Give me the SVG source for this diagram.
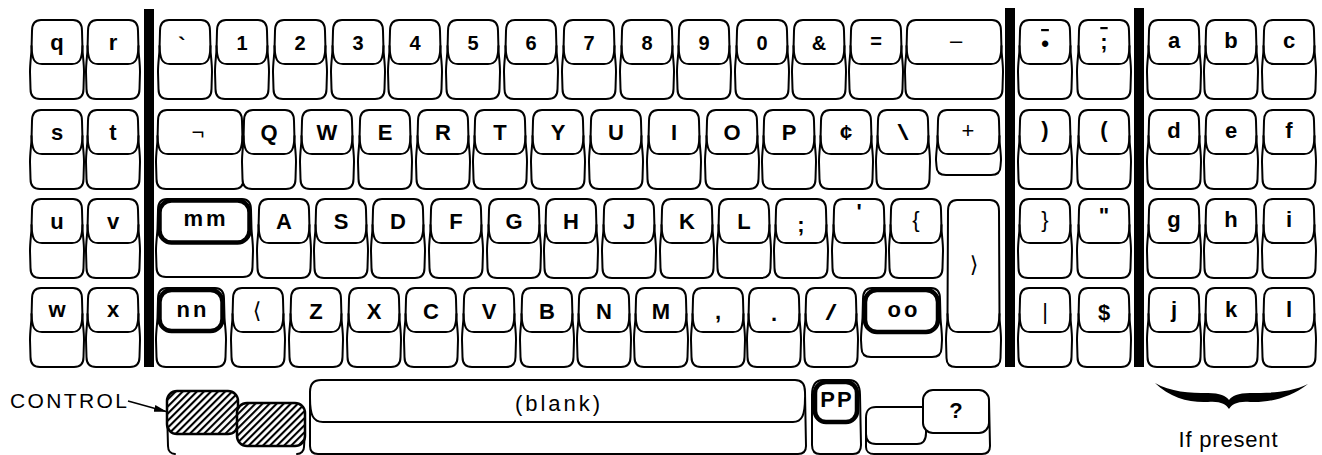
<svg xmlns="http://www.w3.org/2000/svg" width="1322" height="455" viewBox="0 0 1322 455">
<style>
.o{fill:#fff;stroke:#000;stroke-width:2;stroke-linejoin:round}
.l{fill:none;stroke:#000;stroke-width:2;stroke-linecap:round}
.th{fill:#fff;stroke:#000;stroke-width:4.5}
.h{fill:url(#hatch);stroke:#000;stroke-width:2.5}
.bar{fill:#000}
text{font-family:"Liberation Sans",Arial,Helvetica,sans-serif;fill:#000}
.t{font-size:22px;font-weight:bold;text-anchor:middle}
.d{font-size:20px}
.lc{font-size:22px}
.n{font-weight:normal}
.ov{text-decoration:overline}
.ang{font-family:"DejaVu Sans","Noto Sans CJK SC",sans-serif;font-weight:normal}
</style>
<defs>
<pattern id="hatch" width="5" height="5" patternUnits="userSpaceOnUse" patternTransform="rotate(45)"><rect width="5" height="5" fill="#fff"/><line x1="1" y1="0" x2="1" y2="5" stroke="#000" stroke-width="2.2"/></pattern>
<marker id="arr" markerWidth="13" markerHeight="8" refX="12" refY="4" orient="auto" markerUnits="userSpaceOnUse"><path d="M0,0.5 L13,4 L0,7.5 Z" fill="#000"/></marker>
<g id="k">
<path class="o" d="M10,0 C4,0 1,3 1,11 L0.5,30 C0,38 -1,44 -1,52 L-0.5,69 C-0.5,76 3,79 9,79 L43,79 C49,79 52.5,76 52.5,69 L53,52 C53,44 52,38 51.5,30 L51,11 C51,3 48,0 42,0 Z"/>
<path class="l" d="M0.5,26 C1,39 3,44 11,44 L41,44 C49,44 51,39 51.5,26"/>
</g>
</defs>
<rect width="1322" height="455" fill="#fff"/>

<g id="dividers">
<rect class="bar" x="144" y="9" width="10" height="358"/>
<rect class="bar" x="1005" y="8" width="10" height="359"/>
<rect class="bar" x="1134" y="8" width="10" height="359"/>
</g>

<!-- Row 1 -->
<g id="key-q"><use href="#k" x="31" y="20"/><text class="t lc" x="57" y="50">q</text></g>
<g id="key-r"><use href="#k" x="87" y="20"/><text class="t lc" x="113" y="50">r</text></g>
<g id="key-grave"><use href="#k" x="159" y="20"/><text class="t" font-size="32" x="182" y="53">`</text></g>
<g id="key-1"><use href="#k" x="216" y="20"/><text class="t d" x="242" y="50">1</text></g>
<g id="key-2"><use href="#k" x="274" y="20"/><text class="t d" x="300" y="50">2</text></g>
<g id="key-3"><use href="#k" x="332" y="20"/><text class="t d" x="358" y="50">3</text></g>
<g id="key-4"><use href="#k" x="389" y="20"/><text class="t d" x="415" y="50">4</text></g>
<g id="key-5"><use href="#k" x="447" y="20"/><text class="t d" x="473" y="50">5</text></g>
<g id="key-6"><use href="#k" x="505" y="20"/><text class="t d" x="531" y="50">6</text></g>
<g id="key-7"><use href="#k" x="563" y="20"/><text class="t d" x="589" y="50">7</text></g>
<g id="key-8"><use href="#k" x="621" y="20"/><text class="t d" x="647" y="50">8</text></g>
<g id="key-9"><use href="#k" x="678" y="20"/><text class="t d" x="704" y="50">9</text></g>
<g id="key-0"><use href="#k" x="736" y="20"/><text class="t d" x="762" y="50">0</text></g>
<g id="key-amp"><use href="#k" x="793" y="20"/><text class="t d" x="819" y="50">&amp;</text></g>
<g id="key-equals"><use href="#k" x="850" y="20"/><text class="t d" x="876" y="48">=</text></g>
<g id="key-minus" transform="translate(906,20)">
<path class="o" d="M10,0 C4,0 1,3 1,11 L0.5,30 C0,38 -1,44 -1,52 L-0.5,69 C-0.5,76 3,79 9,79 L87,79 C93,79 96.5,76 96.5,69 L97,52 C97,44 96,38 95.5,30 L95,11 C95,3 92,0 86,0 Z"/>
<path class="l" d="M0.5,26 C1,39 3,44 11,44 L85,44 C93,44 95,39 95.5,26"/>
<text class="t n" font-size="20" x="50" y="28">–</text></g>
<g id="key-dot-macron"><use href="#k" x="1019" y="20"/><text class="t ov" font-size="20" x="1045" y="51">•</text></g>
<g id="key-semicolon-macron"><use href="#k" x="1078" y="20"/><text class="t ov" font-size="18" x="1104" y="49">;</text></g>
<g id="key-a"><use href="#k" x="1148" y="20"/><text class="t lc" x="1174" y="48">a</text></g>
<g id="key-b"><use href="#k" x="1205" y="20"/><text class="t lc" x="1231" y="48">b</text></g>
<g id="key-c"><use href="#k" x="1263" y="20"/><text class="t lc" x="1289" y="48">c</text></g>

<!-- Row 2 -->
<g id="key-s"><use href="#k" x="31" y="110"/><text class="t lc" x="57" y="140">s</text></g>
<g id="key-t"><use href="#k" x="87" y="110"/><text class="t lc" x="113" y="140">t</text></g>
<g id="key-not" transform="translate(157,110)">
<path class="o" d="M10,0 C4,0 1,3 1,11 L0.5,30 C0,38 -1,44 -1,52 L-0.5,69 C-0.5,76 3,79 9,79 L77,79 C83,79 86.5,76 86.5,69 L87,52 C87,44 86,38 85.5,30 L85,11 C85,3 82,0 76,0 Z"/>
<path class="l" d="M0.5,26 C1,39 3,44 11,44 L75,44 C83,44 85,39 85.5,26"/>
<text class="t n" font-size="20" x="41" y="30">¬</text></g>
<g id="key-Q"><use href="#k" x="243" y="110"/><text class="t" x="269" y="140">Q</text></g>
<g id="key-W"><use href="#k" x="301" y="110"/><text class="t" x="327" y="140">W</text></g>
<g id="key-E"><use href="#k" x="359" y="110"/><text class="t" x="385" y="140">E</text></g>
<g id="key-R"><use href="#k" x="417" y="110"/><text class="t" x="443" y="140">R</text></g>
<g id="key-T"><use href="#k" x="474" y="110"/><text class="t" x="500" y="140">T</text></g>
<g id="key-Y"><use href="#k" x="532" y="110"/><text class="t" x="558" y="140">Y</text></g>
<g id="key-U"><use href="#k" x="590" y="110"/><text class="t" x="616" y="140">U</text></g>
<g id="key-I"><use href="#k" x="648" y="110"/><text class="t" x="674" y="140">I</text></g>
<g id="key-O"><use href="#k" x="706" y="110"/><text class="t" x="732" y="140">O</text></g>
<g id="key-P"><use href="#k" x="763" y="110"/><text class="t" x="789" y="140">P</text></g>
<g id="key-cent"><use href="#k" x="820" y="110"/><text class="t" x="846" y="140">¢</text></g>
<g id="key-backslash"><use href="#k" x="877" y="110"/><text class="t n" font-size="22" transform="translate(903,140) scale(1.8,1)">\</text></g>
<g id="key-plus" transform="translate(937,110)">
<path class="o" d="M10,0 C4,0 1,3 1,11 L0.5,30 C0,38 -1,44 -1,50 L-0.5,56 C-0.5,62 3,65 9,65 L54,65 C60,65 63.5,62 63.5,56 L64,50 C64,44 63,38 62.5,30 L62,11 C62,3 59,0 53,0 Z"/>
<path class="l" d="M0.5,26 C1,39 3,44 11,44 L52,44 C60,44 62,39 62.5,26"/>
<text class="t n" font-size="17" x="31" y="28">+</text></g>
<g id="key-rparen"><use href="#k" x="1019" y="110"/><text class="t" font-size="18" x="1045" y="137">)</text></g>
<g id="key-lparen"><use href="#k" x="1078" y="110"/><text class="t" font-size="18" x="1104" y="137">(</text></g>
<g id="key-d"><use href="#k" x="1148" y="110"/><text class="t lc" x="1174" y="138">d</text></g>
<g id="key-e"><use href="#k" x="1205" y="110"/><text class="t lc" x="1231" y="138">e</text></g>
<g id="key-f"><use href="#k" x="1263" y="110"/><text class="t lc" x="1289" y="138">f</text></g>

<!-- Row 3 -->
<g id="key-u"><use href="#k" x="31" y="199"/><text class="t lc" x="57" y="229">u</text></g>
<g id="key-v"><use href="#k" x="87" y="199"/><text class="t lc" x="113" y="229">v</text></g>
<g id="key-mm" transform="translate(157,199)">
<path class="o" d="M10,0 C4,0 1,3 1,11 L0.5,30 C0,38 -1,44 -1,52 L-0.5,68 C-0.5,75 3,78 9,78 L86,78 C92,78 95.5,75 95.5,68 L96,52 C96,44 95,38 94.5,30 L94,11 C94,3 91,0 85,0 Z"/>
<rect class="th" x="2.5" y="1.5" width="90" height="42" rx="12"/>
<text class="t" font-size="19" letter-spacing="3" x="49" y="27">mm</text></g>
<g id="key-A"><use href="#k" x="258" y="199"/><text class="t" x="284" y="229">A</text></g>
<g id="key-S"><use href="#k" x="315" y="199"/><text class="t" x="341" y="229">S</text></g>
<g id="key-D"><use href="#k" x="372" y="199"/><text class="t" x="398" y="229">D</text></g>
<g id="key-F"><use href="#k" x="430" y="199"/><text class="t" x="456" y="229">F</text></g>
<g id="key-G"><use href="#k" x="488" y="199"/><text class="t" x="514" y="229">G</text></g>
<g id="key-H"><use href="#k" x="545" y="199"/><text class="t" x="571" y="229">H</text></g>
<g id="key-J"><use href="#k" x="603" y="199"/><text class="t" x="629" y="229">J</text></g>
<g id="key-K"><use href="#k" x="661" y="199"/><text class="t" x="687" y="229">K</text></g>
<g id="key-L"><use href="#k" x="718" y="199"/><text class="t" x="744" y="229">L</text></g>
<g id="key-semicolon"><use href="#k" x="775" y="199"/><text class="t" font-size="19" x="801" y="232">;</text></g>
<g id="key-apostrophe"><use href="#k" x="833" y="199"/><text class="t" font-size="19" x="859" y="219">'</text></g>
<g id="key-lbrace"><use href="#k" x="890" y="199"/><text class="t n" font-size="24" x="916" y="227">{</text></g>
<g id="key-rangle" transform="translate(947,200)">
<path class="o" d="M10,0 C4,0 1,3 1,11 L0.5,118 C0,126 -1,132 -1,140 L-0.5,158 C-0.5,164 3,167 9,167 L44,167 C50,167 53.5,164 53.5,158 L54,140 C54,132 53,126 52.5,118 L52,11 C52,3 49,0 43,0 Z"/>
<path class="l" d="M0.5,114 C1,127 3,132 11,132 L42,132 C50,132 52,127 52.5,114"/>
<text class="t ang" font-size="19" x="27" y="72">⟩</text></g>
<g id="key-rbrace"><use href="#k" x="1019" y="199"/><text class="t n" font-size="24" x="1045" y="227">}</text></g>
<g id="key-dquote"><use href="#k" x="1078" y="199"/><text class="t" font-size="19" x="1104" y="223">"</text></g>
<g id="key-g"><use href="#k" x="1148" y="199"/><text class="t lc" x="1174" y="227">g</text></g>
<g id="key-h"><use href="#k" x="1205" y="199"/><text class="t lc" x="1231" y="227">h</text></g>
<g id="key-i"><use href="#k" x="1263" y="199"/><text class="t lc" x="1289" y="227">i</text></g>

<!-- Row 4 -->
<g id="key-w"><use href="#k" x="31" y="288"/><text class="t lc" x="57" y="317">w</text></g>
<g id="key-x"><use href="#k" x="87" y="288"/><text class="t lc" x="113" y="317">x</text></g>
<g id="key-nn" transform="translate(157,288)">
<path class="o" d="M10,0 C4,0 1,3 1,11 L0.5,30 C0,38 -1,44 -1,52 L-0.5,69 C-0.5,76 3,79 9,79 L59,79 C65,79 68.5,76 68.5,69 L69,52 C69,44 68,38 67.5,30 L67,11 C67,3 64,0 58,0 Z"/>
<rect class="th" x="2.5" y="2" width="63" height="41" rx="12"/>
<text class="t" font-size="19" letter-spacing="3" x="36" y="29">nn</text></g>
<g id="key-langle"><use href="#k" x="232" y="288"/><text class="t ang" font-size="14" x="257" y="318">⟨</text></g>
<g id="key-Z"><use href="#k" x="290" y="288"/><text class="t" x="316" y="319">Z</text></g>
<g id="key-X"><use href="#k" x="348" y="288"/><text class="t" x="374" y="319">X</text></g>
<g id="key-C"><use href="#k" x="405" y="288"/><text class="t" x="431" y="319">C</text></g>
<g id="key-V"><use href="#k" x="463" y="288"/><text class="t" x="489" y="319">V</text></g>
<g id="key-B"><use href="#k" x="521" y="288"/><text class="t" x="547" y="319">B</text></g>
<g id="key-N"><use href="#k" x="578" y="288"/><text class="t" x="604" y="319">N</text></g>
<g id="key-M"><use href="#k" x="635" y="288"/><text class="t" x="661" y="319">M</text></g>
<g id="key-comma"><use href="#k" x="692" y="288"/><text class="t" x="718" y="319">,</text></g>
<g id="key-period"><use href="#k" x="748" y="288"/><text class="t" x="774" y="321">.</text></g>
<g id="key-slash"><use href="#k" x="805" y="288"/><text class="t n" font-size="22" transform="translate(831,320) scale(1.8,1)">/</text></g>
<g id="key-oo" transform="translate(862,288)">
<path class="o" d="M10,0 C4,0 1,3 1,11 L0.5,30 C0,38 -1,44 -1,52 L-0.5,60 C-0.5,66 3,69 9,69 L70,69 C76,69 79.5,66 79.5,60 L80,52 C80,44 79,38 78.5,30 L78,11 C78,3 75,0 69,0 Z"/>
<rect class="th" x="3" y="2" width="73" height="42" rx="12"/>
<text class="t" font-size="19" letter-spacing="3" x="42" y="29">oo</text></g>
<g id="key-bar"><use href="#k" x="1019" y="288"/><text class="t n" font-size="17" x="1045" y="319">|</text></g>
<g id="key-dollar"><use href="#k" x="1078" y="288"/><text class="t" x="1104" y="320">$</text></g>
<g id="key-j"><use href="#k" x="1148" y="288"/><text class="t lc" x="1174" y="317">j</text></g>
<g id="key-k"><use href="#k" x="1205" y="288"/><text class="t lc" x="1231" y="317">k</text></g>
<g id="key-l"><use href="#k" x="1263" y="288"/><text class="t lc" x="1289" y="317">l</text></g>

<!-- Bottom row -->
<g id="label-control"><text x="10" y="408" font-size="21" textLength="117">CONTROL</text></g>
<g id="key-control">
<path class="l" d="M167,410 L168,446 C168,451 171,454 175,454"/>
<path class="l" d="M305,430 L304,447 C304,451 301,454 297,454"/>
<rect class="h" x="167" y="391" width="71" height="43" rx="10"/>
<rect class="h" x="237" y="403" width="68" height="43" rx="10"/>
</g>
<g id="key-space">
<path class="o" d="M321,380 L795,380 C802,380 805,384 805,392 L806,446 C806,451 803,454 798,454 L318,454 C313,454 310,451 310,446 L310,392 C310,384 313,380 321,380 Z"/>
<path class="l" d="M310,398 C310,415 313,422 323,422 L793,422 C802,422 805,415 805,398"/>
<text x="557.5" y="411" font-size="22" text-anchor="middle" textLength="85">(blank)</text>
</g>
<g id="key-PP">
<path class="o" d="M823,380 L849,380 C857,380 860,386 860,395 L861,445 C861,451 858,454 853,454 L820,454 C815,454 812,451 812,445 L812,395 C812,386 815,380 823,380 Z"/>
<rect class="th" x="815" y="382" width="42" height="40" rx="11"/>
<text class="t" font-size="17" letter-spacing="2" x="837" y="407">PP</text>
</g>
<g id="key-blank-small">
<path class="l" d="M866,420 L866,447 C866,451 869,454 874,454 L982,454 C987,454 990,451 990,446 L989,400"/>
<path class="o" d="M926,407 L876,407 C869,407 866,410 866,418 L866,434 C866,441 869,444 876,444 L917,444 C923,444 926,440 926,433 Z"/>
</g>
<g id="key-question">
<rect class="o" x="923" y="390" width="66" height="43" rx="10"/>
<text class="t" font-size="20" x="956" y="418">?</text>
</g>

<g id="brace-note">
<path fill="#000" d="M1155,383 C1170,398 1190,403 1208,402 C1220,401 1226,404 1229,409 C1232,404 1238,401 1250,402 C1268,403 1290,398 1308,384 C1290,393 1268,393 1250,393 C1238,393 1232,396 1229,400 C1226,396 1220,393 1208,393 C1190,393 1170,392 1155,383 Z"/>
<text x="1228" y="447" font-size="22" text-anchor="middle" textLength="99">If present</text>
</g>

<g id="connectors">
<line x1="128" y1="401" x2="166" y2="411.5" stroke="#000" stroke-width="1.6" marker-end="url(#arr)"/>
</g>
</svg>
